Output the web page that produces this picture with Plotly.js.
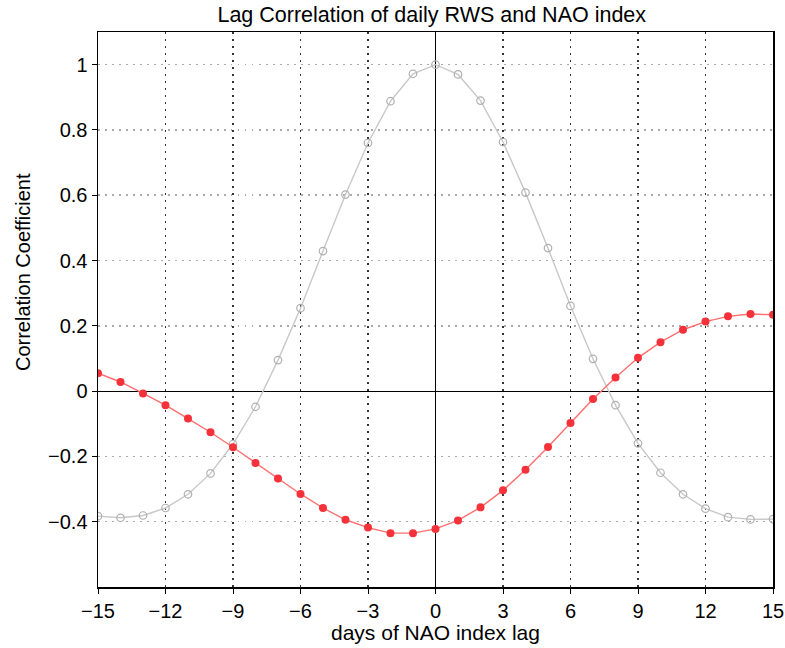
<!DOCTYPE html>
<html>
<head>
<meta charset="utf-8">
<script src="https://cdn.plot.ly/plotly-3.0.1.min.js"></script>
<style>html,body{margin:0;padding:0;background:#fff;}#chart{width:785px;height:648px;}</style>
</head>
<body>
<div id="chart"></div>
<script>
const lags = [-15,-14,-13,-12,-11,-10,-9,-8,-7,-6,-5,-4,-3,-2,-1,0,1,2,3,4,5,6,7,8,9,10,11,12,13,14,15];
const autoCorrNAO = [-0.383,-0.388,-0.381,-0.358,-0.316,-0.252,-0.162,-0.048,0.095,0.254,0.429,0.602,0.760,0.888,0.972,1.0,0.970,0.890,0.763,0.608,0.438,0.261,0.099,-0.043,-0.160,-0.250,-0.316,-0.360,-0.386,-0.393,-0.392];
const corrRWSNAO = [0.055,0.028,-0.007,-0.043,-0.084,-0.126,-0.172,-0.220,-0.268,-0.315,-0.358,-0.394,-0.418,-0.435,-0.435,-0.422,-0.396,-0.356,-0.304,-0.241,-0.171,-0.098,-0.024,0.042,0.102,0.150,0.188,0.213,0.229,0.236,0.234];
const xTicks = [-15,-12,-9,-6,-3,0,3,6,9,12,15];
const yTicks = [-0.4,-0.2,0,0.2,0.4,0.6,0.8,1];

const traces = [
  {x: lags, y: autoCorrNAO, type: 'scatter', mode: 'lines+markers',
   line: {color: '#c8c8c8', width: 1.4},
   marker: {symbol: 'circle-open', size: 7.5, color: '#b0b0b0', line: {width: 1.2}},
   showlegend: false},
  {x: lags, y: corrRWSNAO, type: 'scatter', mode: 'lines+markers',
   line: {color: '#ff6e6e', width: 1.4},
   marker: {symbol: 'circle', size: 8, color: '#f5323a'},
   showlegend: false}
];

const layout = {
  width: 785, height: 648,
  margin: {l: 98, r: 12, t: 32, b: 61},
  paper_bgcolor: '#fff', plot_bgcolor: '#fff',
  font: {family: 'Liberation Sans, Arial, sans-serif', size: 20, color: '#000'},
  title: {text: 'Lag Correlation of daily RWS and NAO index', x: 0.55, xanchor: 'center', y: 0.99, yanchor: 'top', font: {size: 21.5}},
  xaxis: {
    range: [-15, 15], tickvals: xTicks, ticks: 'outside', ticklen: 5, tickcolor: '#000',
    showline: true, linecolor: '#000', linewidth: 1.5, mirror: true,
    showgrid: true, gridcolor: '#333', griddash: '1.5px,5.5px', gridwidth: 1.5,
    zeroline: true, zerolinecolor: '#000', zerolinewidth: 1,
    title: {text: 'days of NAO index lag', font: {size: 21}, standoff: 5},
    tickfont: {size: 20}, automargin: false
  },
  yaxis: {
    range: [-0.6, 1.1], tickvals: yTicks, ticks: 'outside', ticklen: 5, tickcolor: '#000',
    showline: true, linecolor: '#000', linewidth: 1.5, mirror: true,
    showgrid: true, gridcolor: '#aaa', griddash: '1.5px,5.5px', gridwidth: 1.5,
    zeroline: true, zerolinecolor: '#000', zerolinewidth: 1,
    tickfont: {size: 20}, automargin: false
  },
  annotations: [{
    text: 'Correlation Coefficient', textangle: -90, showarrow: false,
    xref: 'paper', yref: 'paper', x: -0.111, y: 0.5676, xanchor: 'center', yanchor: 'middle',
    font: {size: 20}
  }]
};

Plotly.newPlot('chart', traces, layout, {staticPlot: true, displayModeBar: false});
</script>
</body>
</html>
